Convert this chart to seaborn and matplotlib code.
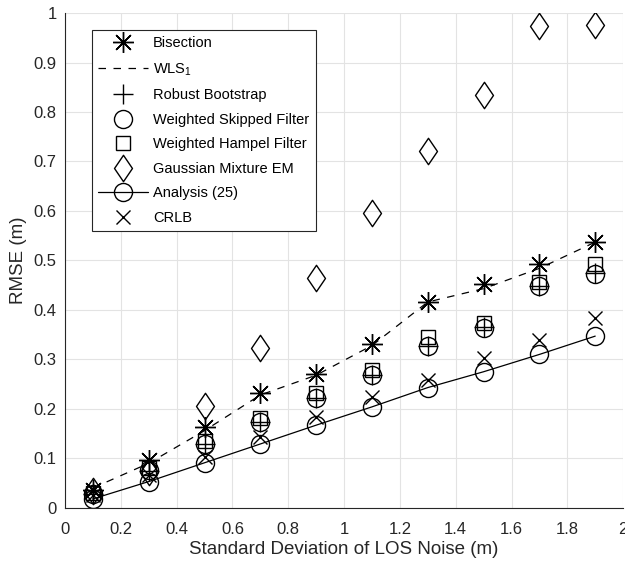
import matplotlib
matplotlib.use("Agg")
import matplotlib.pyplot as plt
from matplotlib.path import Path
import seaborn as sns
import pandas as pd

# Noise levels (standard deviation of LOS noise, m)
sigma = [0.1, 0.3, 0.5, 0.7, 0.9, 1.1, 1.3, 1.5, 1.7, 1.9]

# RMSE (m) of each estimator
bisection = [0.035, 0.097, 0.163, 0.232, 0.270, 0.331, 0.416, 0.452, 0.493, 0.537]
wls1 = [0.040, 0.090, 0.156, 0.228, 0.268, 0.328, 0.416, 0.443, 0.484, 0.537]
robust_bootstrap = [0.028, 0.075, 0.128, 0.174, 0.222, 0.268, 0.328, 0.365, 0.448, 0.474]
weighted_skipped = [0.027, 0.076, 0.129, 0.174, 0.222, 0.268, 0.327, 0.364, 0.448, 0.472]
weighted_hampel = [0.030, 0.080, 0.134, 0.181, 0.232, 0.278, 0.345, 0.374, 0.456, 0.493]
gaussian_em = [0.034, 0.072, 0.206, 0.324, 0.464, 0.595, 0.722, 0.835, 0.974, 0.976]
analysis = [0.018, 0.053, 0.091, 0.129, 0.167, 0.204, 0.243, 0.275, 0.310, 0.347]
crlb = [0.025, 0.067, 0.103, 0.144, 0.184, 0.224, 0.258, 0.302, 0.339, 0.384]

x_ticks = [0, 0.2, 0.4, 0.6, 0.8, 1, 1.2, 1.4, 1.6, 1.8, 2]
y_ticks = [0, 0.1, 0.2, 0.3, 0.4, 0.5, 0.6, 0.7, 0.8, 0.9, 1]

sns.set_style("white")
plt.rcParams["font.family"] = ["Liberation Sans", "DejaVu Sans"]
plt.rcParams["mathtext.fontset"] = "custom"
plt.rcParams["mathtext.rm"] = "Liberation Sans"

df = pd.DataFrame({
    "sigma": sigma,
    "bisection": bisection,
    "wls1": wls1,
    "robust_bootstrap": robust_bootstrap,
    "weighted_skipped": weighted_skipped,
    "weighted_hampel": weighted_hampel,
    "gaussian_em": gaussian_em,
    "analysis": analysis,
    "crlb": crlb,
})

# MATLAB-style diamond: taller than wide
diamond = Path([(0, 1), (0.68, 0), (0, -1), (-0.68, 0), (0, 1)],
               [Path.MOVETO, Path.LINETO, Path.LINETO, Path.LINETO, Path.CLOSEPOLY])

fig = plt.figure(figsize=(6.25, 5.68), dpi=100)
ax = fig.add_axes([0.104, 0.106, 0.893, 0.871])

k = "black"
common = dict(ax=ax, x="sigma", color=k, errorbar=None, sort=False)
ms = 13
mk = dict(markerfacecolor="none", markeredgecolor=k, markeredgewidth=1.0)

sns.lineplot(data=df, y="bisection", label="Bisection", linestyle="none",
             marker=(8, 2, 0), markersize=ms + 2, **mk, **common)
sns.lineplot(data=df, y="wls1", label="WLS$_1$", linestyle=(0, (6, 6)),
             linewidth=0.9, **common)
sns.lineplot(data=df, y="robust_bootstrap", label="Robust Bootstrap", linestyle="none",
             marker="+", markersize=ms + 1, **mk, **common)
sns.lineplot(data=df, y="weighted_skipped", label="Weighted Skipped Filter", linestyle="none",
             marker="o", markersize=ms, **mk, **common)
sns.lineplot(data=df, y="weighted_hampel", label="Weighted Hampel Filter", linestyle="none",
             marker="s", markersize=ms - 2.5, **mk, **common)
sns.lineplot(data=df, y="gaussian_em", label="Gaussian Mixture EM", linestyle="none",
             marker=diamond, markersize=ms + 6, **mk, **common)
sns.lineplot(data=df, y="analysis", label="Analysis (25)", linestyle="-", linewidth=0.9,
             marker="o", markersize=ms, **mk, **common)
sns.lineplot(data=df, y="crlb", label="CRLB", linestyle="none",
             marker="x", markersize=ms - 3, **mk, **common)

ax.set_xlim(0, 2)
ax.set_ylim(0, 1)
ax.set_xticks(x_ticks)
ax.set_xticklabels([f"{t:g}" for t in x_ticks])
ax.set_yticks(y_ticks)
ax.set_yticklabels([f"{t:g}" for t in y_ticks])
ax.grid(True, color="#e3e3e3", linewidth=0.8)
ax.set_axisbelow(True)
for side in ("top", "right"):
    ax.spines[side].set_visible(False)
for side in ("left", "bottom"):
    ax.spines[side].set_color("#262626")
    ax.spines[side].set_linewidth(0.8)
ax.tick_params(direction="in", length=5, width=0.8, colors="#262626",
               labelsize=12, labelcolor="#262626")
ax.tick_params(axis="x", pad=10)
ax.tick_params(axis="y", pad=6)
ax.set_xlabel("Standard Deviation of LOS Noise (m)", fontsize=13.5, color="#262626",
              labelpad=3)
ax.set_ylabel("RMSE (m)", fontsize=13.5, color="#262626", labelpad=5)

leg = ax.legend(loc="upper left", bbox_to_anchor=(0.048, 0.966), fontsize=10.5,
                frameon=True, fancybox=False, edgecolor="#262626", framealpha=1,
                numpoints=1, handlelength=3.4, handletextpad=0.35, labelspacing=0.72,
                borderpad=0.45, borderaxespad=0)
leg.get_frame().set_linewidth(0.8)
for t in leg.get_texts():
    t.set_color("black")

fig.savefig("out.png", dpi=100)
